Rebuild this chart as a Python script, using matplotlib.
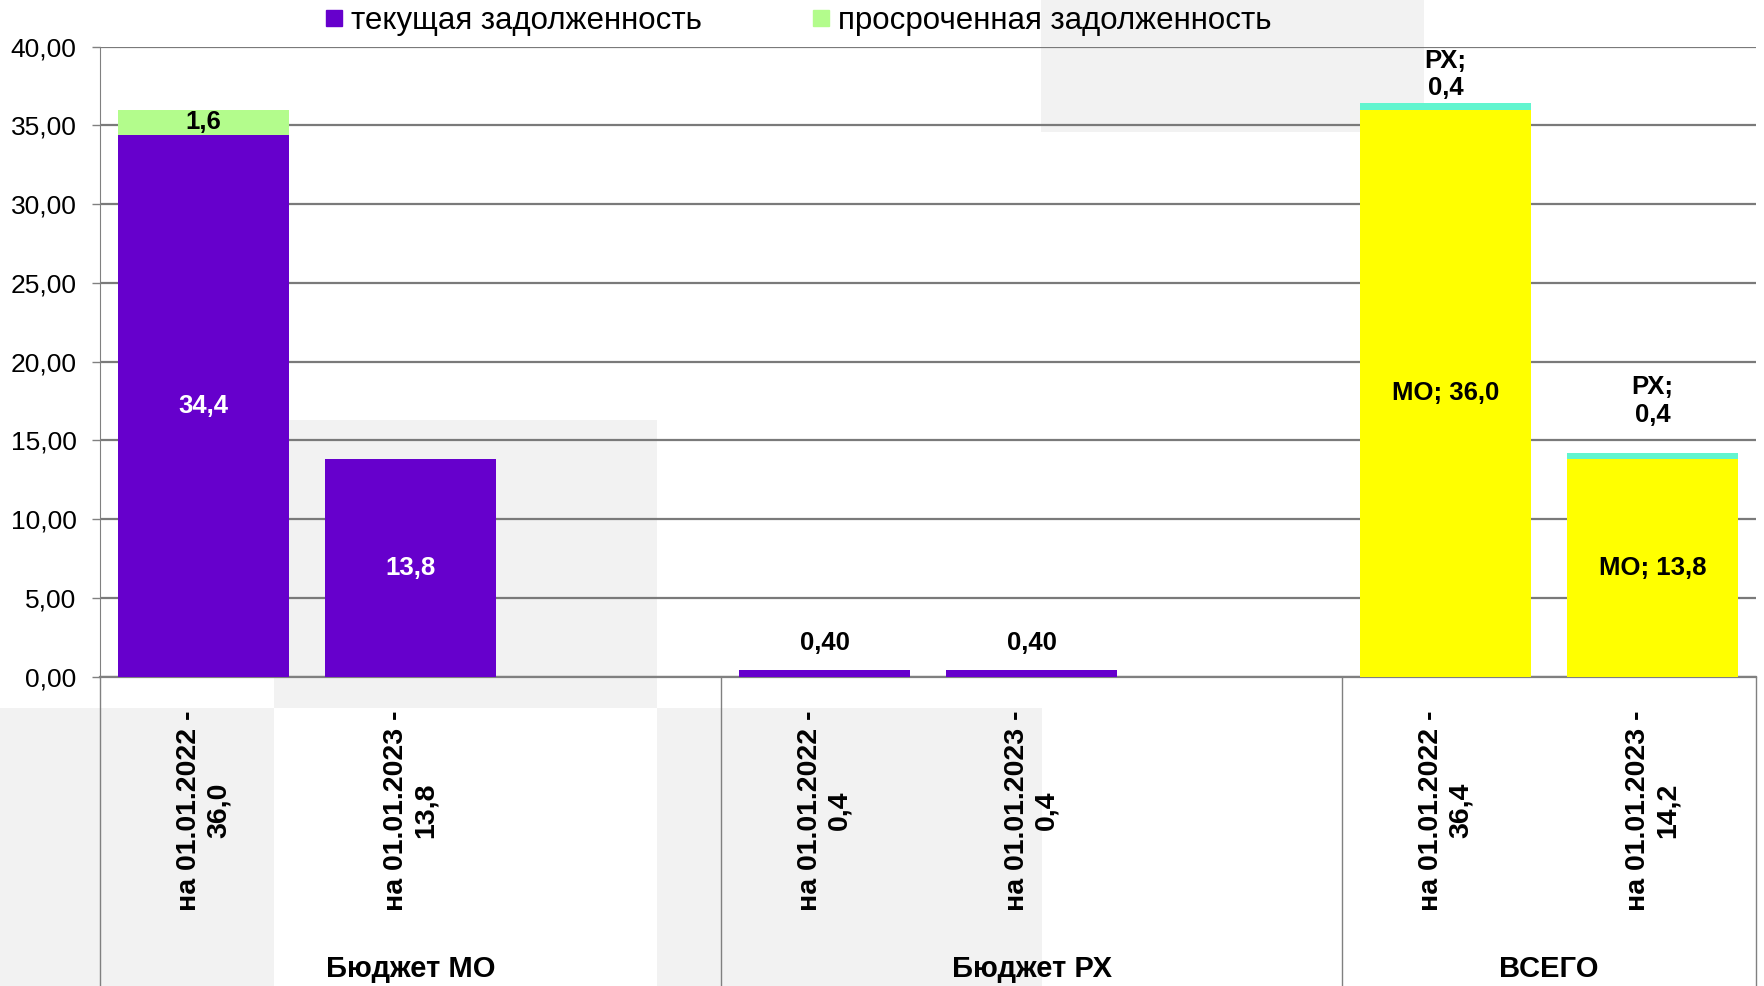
import matplotlib.pyplot as plt
from matplotlib.patches import Rectangle
from matplotlib.lines import Line2D
from matplotlib.transforms import blended_transform_factory

plt.rcParams['font.family'] = ['Liberation Sans', 'DejaVu Sans']

# данные (млн руб.)
mo_current = [34.4, 13.8]
mo_overdue = [1.6, 0.0]
rx_current = [0.4, 0.4]
total_mo = [36.0, 13.8]
total_rx = [0.4, 0.4]

x_labels = ['на 01.01.2022 -\n36,0', 'на 01.01.2023 -\n13,8', '',
            'на 01.01.2022 -\n0,4', 'на 01.01.2023 -\n0,4', '',
            'на 01.01.2022 -\n36,4', 'на 01.01.2023 -\n14,2']
groups = ['Бюджет МО', 'Бюджет РХ', 'ВСЕГО']
group_sizes = [3, 3, 2]
legend_labels = ['текущая задолженность', 'просроченная задолженность']

c_cur = '#6600cc'
c_over = '#b3fc8c'
c_mo = '#ffff00'
c_rx = '#62f5cf'


def fmt(v, d=1):
    return f'{v:.{d}f}'.replace('.', ',')


fig = plt.figure(figsize=(17.65, 9.86), dpi=100)
ax = fig.add_axes([0.0567, 0.3137, 0.9382, 0.6391])
ax.set_facecolor('none')

# светло-серые подложки, как на скриншоте
for x0, y0, w, h in [(274, 420, 383, 288), (0, 708, 274, 278), (657, 708, 385, 278), (1041, 0, 383, 132)]:
    fig.add_artist(Rectangle((x0 / 1765, 1 - (y0 + h) / 986), w / 1765, h / 986,
                             transform=fig.transFigure, color='#f2f2f2', lw=0, zorder=-5))

w = 0.83
pos_mo = [0, 1]
pos_rx = [3, 4]
pos_tot = [6, 7]

ax.bar(pos_mo, mo_current, w, color=c_cur, zorder=3)
ax.bar(pos_mo, mo_overdue, w, bottom=mo_current, color=c_over, zorder=3)
ax.bar(pos_rx, rx_current, w, color=c_cur, zorder=3)
ax.bar(pos_tot, total_mo, w, color=c_mo, zorder=3)
ax.bar(pos_tot, total_rx, w, bottom=total_mo, color=c_rx, zorder=3)

lbl = dict(fontsize=18.5, fontweight='bold')

# подписи данных
for x, cur, ov in zip(pos_mo, mo_current, mo_overdue):
    ax.text(x, cur / 2, fmt(cur), ha='center', va='center', color='white', zorder=5, **lbl)
    if ov > 0:
        ax.text(x, cur + ov / 2, fmt(ov), ha='center', va='center', color='black', zorder=5, **lbl)
for x, v in zip(pos_rx, rx_current):
    ax.annotate(fmt(v, 2), (x, v), xytext=(0, 11), textcoords='offset points',
                ha='center', va='bottom', **lbl)
for x, m, r, off in zip(pos_tot, total_mo, total_rx, [2, 19]):
    ax.text(x, m / 2, 'МО; ' + fmt(m), ha='center', va='center', zorder=5, **lbl)
    ax.annotate('РХ;\n' + fmt(r), (x, m + r), xytext=(0, off), textcoords='offset points',
                ha='center', va='bottom', linespacing=1.2, **lbl)

ax.set_xlim(-0.5, 7.5)
ax.set_ylim(0, 40)
ax.set_yticks(range(0, 41, 5))
ax.set_yticklabels([fmt(t, 2) for t in range(0, 41, 5)], fontsize=19)
ax.set_xticks(range(len(x_labels)))
ax.set_xticklabels(x_labels, rotation=90, fontsize=20.5, fontweight='bold',
                   va='top', ha='center', multialignment='center', linespacing=1.2)
ax.tick_params(axis='x', length=0, pad=24)
ax.tick_params(axis='y', length=6, width=1, color='#808080', pad=11)

ax.set_axisbelow(True)
ax.yaxis.grid(True, color='#7a7a7a', lw=1.6)
for s in ['top', 'right']:
    ax.spines[s].set_visible(False)
ax.spines['left'].set_color('#808080')
ax.spines['bottom'].set_color('#808080')
ax.spines['bottom'].set_linewidth(1.6)

# разделители групп и подписи групп
tr = blended_transform_factory(ax.transData, fig.transFigure)
y_axis_bottom = ax.get_position().y0
edge = -0.5
for name, n in zip(groups, group_sizes):
    fig.add_artist(Line2D([edge, edge], [y_axis_bottom, 0], transform=tr, color='#808080', lw=1))
    center = edge + 1.5 if n == 3 else edge + n / 2
    ax.text(center, 0.017, name, transform=tr, ha='center', va='center',
            fontsize=21, fontweight='bold', clip_on=False)
    edge += n
fig.add_artist(Line2D([edge, edge], [y_axis_bottom, 0], transform=tr, color='#808080', lw=1))

handles = [Line2D([], [], marker='s', ls='', color=c, markersize=11.5) for c in [c_cur, c_over]]
fig.legend(handles, legend_labels, ncol=2, loc='center', bbox_to_anchor=(0.452, 0.979),
           frameon=False, fontsize=22.5, handlelength=0.6, handletextpad=0.25, columnspacing=3.5)

fig.savefig('out.png', dpi=100)
